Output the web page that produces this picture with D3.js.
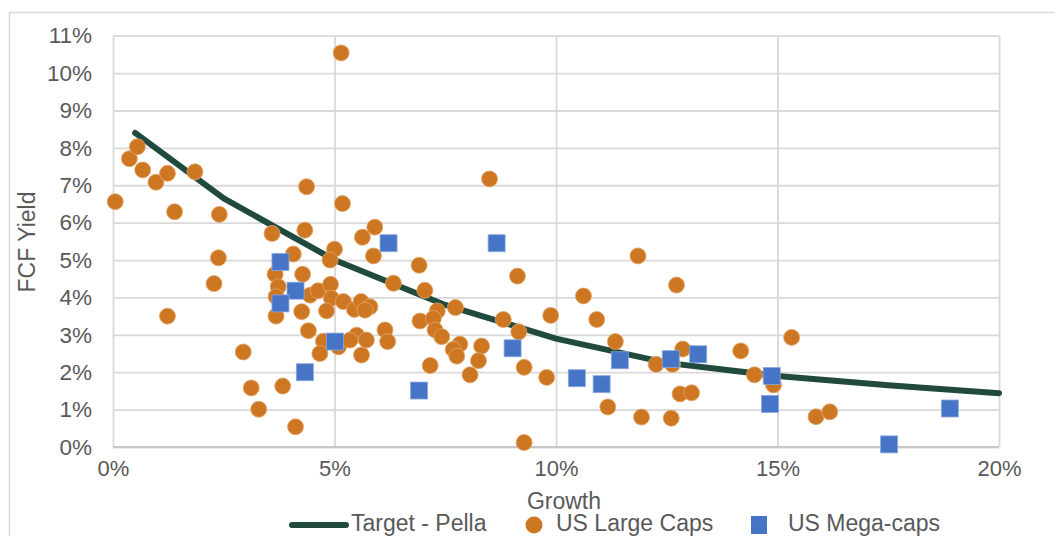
<!DOCTYPE html>
<html>
<head>
<meta charset="utf-8">
<script src="https://cdn.jsdelivr.net/npm/d3@7"></script>
<style>
  html, body { margin: 0; padding: 0; background: #fff; overflow: hidden; }
  svg { display: block; font-family: "Liberation Sans", Arial, sans-serif; }
</style>
</head>
<body>
<svg id="chart" width="1055" height="536"></svg>
<script>
// Target curve (growth %, FCF yield %)
const targetGrowth = [0.5, 2.5, 5, 7.5, 10, 12.5, 15, 17.5, 20];
const targetYield  = [8.4, 6.65, 5.0, 3.8, 2.9, 2.25, 1.9, 1.65, 1.44];

// US Large Caps (growth %, FCF yield %)
const largeGrowth = [0.05, 0.37, 0.55, 0.67, 0.97, 1.23, 1.39, 1.85, 2.40, 2.38,
  2.28, 1.23, 2.94, 3.12, 3.29, 3.83, 4.12, 3.59, 4.33, 4.37,
  5.15, 5.18, 5.00, 4.90, 4.07, 3.66, 4.28, 3.73, 3.68, 3.68,
  4.26, 4.45, 4.63, 4.91, 4.93, 5.20, 4.82, 5.45, 5.60, 5.80,
  5.69, 4.41, 4.75, 4.67, 5.09, 5.50, 5.35, 5.72, 5.61, 6.14,
  6.20, 5.63, 5.91, 5.88, 6.33, 6.91, 7.04, 8.50, 9.13, 7.73,
  9.88, 7.32, 6.93, 7.23, 8.81, 9.16, 7.27, 7.42, 7.83, 7.68,
  7.76, 8.32, 8.25, 7.16, 8.06, 9.28, 9.79, 9.28, 11.85, 12.72,
  10.62, 10.92, 11.34, 12.86, 14.17, 15.32, 12.26, 12.63, 14.48, 14.91,
  12.80, 13.06, 11.17, 11.93, 12.60, 15.87, 16.18];
const largeYield = [6.56, 7.71, 8.03, 7.41, 7.08, 7.32, 6.29, 7.36, 6.22, 5.06,
  4.37, 3.50, 2.54, 1.58, 1.01, 1.63, 0.54, 5.71, 5.80, 6.96,
  10.54, 6.51, 5.29, 5.00, 5.16, 4.62, 4.62, 4.29, 4.02, 3.50,
  3.62, 4.06, 4.18, 4.35, 3.98, 3.89, 3.64, 3.68, 3.89, 3.75,
  3.66, 3.11, 2.83, 2.50, 2.68, 2.99, 2.86, 2.86, 2.46, 3.13,
  2.82, 5.61, 5.88, 5.11, 4.38, 4.86, 4.19, 7.17, 4.57, 3.73,
  3.52, 3.64, 3.37, 3.44, 3.41, 3.08, 3.13, 2.95, 2.75, 2.61,
  2.43, 2.70, 2.31, 2.18, 1.93, 2.13, 1.86, 0.12, 5.11, 4.33,
  4.04, 3.41, 2.82, 2.62, 2.57, 2.93, 2.21, 2.21, 1.93, 1.66,
  1.42, 1.45, 1.07, 0.80, 0.77, 0.81, 0.94];

// US Mega-caps (growth %, FCF yield %)
const megaGrowth = [3.78, 4.12, 3.78, 4.33, 5.01, 6.22, 8.66, 6.91, 9.02, 10.47,
  11.03, 11.44, 12.59, 13.21, 14.87, 14.83, 18.89, 17.52];
const megaYield  = [4.95, 4.18, 3.84, 2.00, 2.82, 5.45, 5.45, 1.51, 2.64, 1.84,
  1.68, 2.32, 2.35, 2.48, 1.90, 1.15, 1.03, 0.07];

const xTicks = [0, 5, 10, 15, 20];
const yTicks = [0, 1, 2, 3, 4, 5, 6, 7, 8, 9, 10, 11];
const seriesNames = ["Target - Pella", "US Large Caps", "US Mega-caps"];

const COL_LINE = "#1f4a3d";
const COL_LARGE = "#cd7722";
const COL_MEGA = "#4674c6";
const COL_TEXT = "#595959";
const COL_GRID = "#d9d9d9";

const svg = d3.select("#chart");

// outer chart frame
svg.append("rect")
  .attr("x", 9.5).attr("y", 12.5)
  .attr("width", 1100).attr("height", 600)
  .attr("fill", "none").attr("stroke", "#d9d9d9").attr("stroke-width", 1.5);

const x = d3.scaleLinear().domain([0, 20]).range([113, 999]);
const y = d3.scaleLinear().domain([0, 11]).range([447, 35.7]);

// horizontal gridlines
svg.append("g")
  .attr("transform", `translate(${x(0)},0)`)
  .call(d3.axisLeft(y).tickValues(yTicks).tickSize(-(x(20) - x(0))).tickFormat(""))
  .call(g => g.select(".domain").remove())
  .call(g => g.selectAll("line").attr("stroke", COL_GRID).attr("stroke-width", 1.8));

// vertical gridlines
svg.append("g")
  .attr("transform", `translate(0,${y(0)})`)
  .call(d3.axisBottom(x).tickValues(xTicks).tickSize(-(y(0) - y(11))).tickFormat(""))
  .call(g => g.select(".domain").remove())
  .call(g => g.selectAll("line").attr("stroke", COL_GRID).attr("stroke-width", 1.8));

// base axis line
svg.append("line")
  .attr("x1", x(0)).attr("x2", x(20)).attr("y1", y(0)).attr("y2", y(0))
  .attr("stroke", "#c8c8c8").attr("stroke-width", 2);

// tick labels
const yAxis = svg.append("g")
  .attr("transform", `translate(${x(0)},0)`)
  .call(d3.axisLeft(y).tickValues(yTicks).tickSize(0).tickPadding(21).tickFormat(d => d + "%"));
yAxis.select(".domain").remove();
yAxis.selectAll("text")
  .attr("fill", COL_TEXT).style("font-size", "22.5px")
  .style("font-family", "Liberation Sans, Arial, sans-serif");

const xAxis = svg.append("g")
  .attr("transform", `translate(0,${y(0)})`)
  .call(d3.axisBottom(x).tickValues(xTicks).tickSize(0).tickPadding(13).tickFormat(d => d + "%"));
xAxis.select(".domain").remove();
xAxis.selectAll("text")
  .attr("fill", COL_TEXT).style("font-size", "22px")
  .style("font-family", "Liberation Sans, Arial, sans-serif");

// axis titles
svg.append("text")
  .attr("x", 564).attr("y", 509)
  .attr("text-anchor", "middle")
  .attr("fill", COL_TEXT).style("font-size", "23px")
  .text("Growth");

svg.append("text")
  .attr("transform", "translate(35,242) rotate(-90)")
  .attr("text-anchor", "middle")
  .attr("fill", COL_TEXT).style("font-size", "23px")
  .text("FCF Yield");

// target line
const lineData = targetGrowth.map((g, i) => [g, targetYield[i]]);
svg.append("path")
  .datum(lineData)
  .attr("fill", "none")
  .attr("stroke", COL_LINE)
  .attr("stroke-width", 6)
  .attr("stroke-linecap", "round")
  .attr("stroke-linejoin", "round")
  .attr("d", d3.line().x(d => x(d[0])).y(d => y(d[1])));

// large caps
const largeData = largeGrowth.map((g, i) => [g, largeYield[i]]);
svg.append("g").selectAll("circle")
  .data(largeData)
  .join("circle")
  .attr("cx", d => x(d[0]))
  .attr("cy", d => y(d[1]))
  .attr("r", 8)
  .attr("fill", COL_LARGE)
  .attr("stroke", "#e3a56a")
  .attr("stroke-width", 0.8);

// mega caps
const megaData = megaGrowth.map((g, i) => [g, megaYield[i]]);
const sq = 17;
svg.append("g").selectAll("rect")
  .data(megaData)
  .join("rect")
  .attr("x", d => x(d[0]) - sq / 2)
  .attr("y", d => y(d[1]) - sq / 2)
  .attr("width", sq).attr("height", sq)
  .attr("fill", COL_MEGA)
  .attr("stroke", "#8ea9dc")
  .attr("stroke-width", 0.8);

// legend
const legY = 525;
const legend = svg.append("g");
legend.append("line")
  .attr("x1", 292).attr("x2", 346).attr("y1", legY).attr("y2", legY)
  .attr("stroke", COL_LINE).attr("stroke-width", 6).attr("stroke-linecap", "round");
legend.append("text")
  .attr("x", 351).attr("y", legY + 6)
  .attr("fill", COL_TEXT).style("font-size", "23px")
  .text(seriesNames[0]);
legend.append("circle")
  .attr("cx", 534).attr("cy", legY).attr("r", 8.5)
  .attr("fill", COL_LARGE);
legend.append("text")
  .attr("x", 556).attr("y", legY + 6)
  .attr("fill", COL_TEXT).style("font-size", "23px")
  .text(seriesNames[1]);
legend.append("rect")
  .attr("x", 751).attr("y", legY - 9).attr("width", 16).attr("height", 18)
  .attr("fill", COL_MEGA);
legend.append("text")
  .attr("x", 788).attr("y", legY + 6)
  .attr("fill", COL_TEXT).style("font-size", "23px")
  .text(seriesNames[2]);
</script>
</body>
</html>
